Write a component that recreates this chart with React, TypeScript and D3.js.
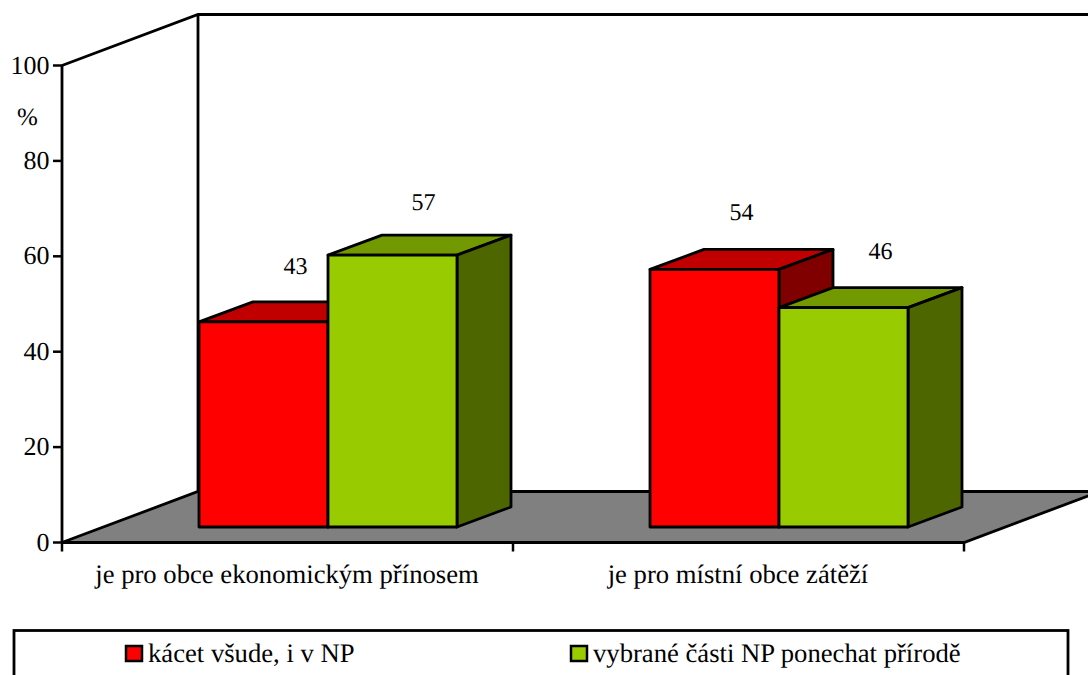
import React from 'react';
import * as d3 from 'd3';

const categories = ['je pro obce ekonomickým přínosem', 'je pro místní obce zátěží'];
const seriesNames = ['kácet všude, i v NP', 'vybrané části NP ponechat přírodě'];
const cutValues = [43, 54];
const keepValues = [57, 46];
const yTicks = [0, 20, 40, 60, 80, 100];
const xEdges = [0, 1, 2];

const frontColors = ['#ff0000', '#99cc00'];
const topColors = ['#c00000', '#739900'];
const sideColors = ['#800000', '#4d6600'];

const serif = '"Liberation Serif", "Times New Roman", serif';

// 3d offsets: whole floor depth, bar front inset, bar depth
const wall = { dx: 136, dy: -51 };
const inset = { dx: 40.5, dy: -15.5 };
const depth = { dx: 54, dy: -20 };

const y = d3.scaleLinear().domain([0, 100]).range([542.5, 65.5]);
const xEdge = d3.scaleLinear().domain([0, 2]).range([62, 964]);
const x0 = d3.scaleBand<string>().domain(categories).range([62, 964]).paddingInner(0).paddingOuter(0);
const x1 = d3.scaleBand<string>().domain(seriesNames).range([96.5, 354.5]);

const poly = (pts: [number, number][]) => (d3.line()(pts) as string) + 'Z';

function Bar({ cat, name, value, i }: { cat: string; name: string; value: number; i: number }) {
  const left = (x0(cat) as number) + (x1(name) as number) + inset.dx;
  const right = left + x1.bandwidth();
  const bottom = y(0) + inset.dy;
  const top = y(value) + inset.dy;
  const stroke = { stroke: '#000', strokeWidth: 2.8, strokeLinejoin: 'round' as const };
  return (
    <g>
      <path d={poly([[left, top], [left + depth.dx, top + depth.dy], [right + depth.dx, top + depth.dy], [right, top]])} fill={topColors[i]} {...stroke} />
      <path d={poly([[right, top], [right + depth.dx, top + depth.dy], [right + depth.dx, bottom + depth.dy], [right, bottom]])} fill={sideColors[i]} {...stroke} />
      <path d={poly([[left, top], [right, top], [right, bottom], [left, bottom]])} fill={frontColors[i]} {...stroke} />
    </g>
  );
}

export default function App() {
  const series = [cutValues, keepValues];
  const labelPos = [
    [[295, 274], [741, 220]],
    [[423, 210], [880, 259]],
  ];
  return (
    <svg width={1088} height={675} style={{ position: 'absolute', left: 0, top: 0, display: 'block' }} fontFamily={serif} fill="#000" textRendering="geometricPrecision">
      <rect width={1088} height={675} fill="#fff" />

      {/* floor */}
      <path
        d={poly([[xEdge(0), y(0)], [xEdge(0) + wall.dx, y(0) + wall.dy], [xEdge(2) + wall.dx, y(0) + wall.dy], [xEdge(2), y(0)]])}
        fill="#808080" stroke="#000" strokeWidth={2.8}
      />
      {/* back wall */}
      <path
        d={`M${xEdge(0)},${y(100)}L${xEdge(0) + wall.dx},${y(100) + wall.dy}L1090,${y(100) + wall.dy}M${xEdge(0) + wall.dx},${y(100) + wall.dy}L${xEdge(0) + wall.dx},${y(0) + wall.dy}`}
        fill="none" stroke="#000" strokeWidth={2.8}
      />
      {/* axes */}
      <line x1={xEdge(0)} x2={xEdge(0)} y1={y(100)} y2={y(0)} stroke="#000" strokeWidth={2.8} />
      {yTicks.map(t => (
        <g key={t}>
          <line x1={xEdge(0) - 9} x2={xEdge(0)} y1={y(t)} y2={y(t)} stroke="#000" strokeWidth={2.5} />
          <text x={49.5} y={y(t) + 8} textAnchor="end" fontSize={26}>{t}</text>
        </g>
      ))}
      {xEdges.map(e => (
        <line key={e} x1={xEdge(e)} x2={xEdge(e)} y1={y(0)} y2={y(0) + 9} stroke="#000" strokeWidth={2.5} />
      ))}
      <text x={27.5} y={125} textAnchor="middle" fontSize={25}>%</text>

      {/* bars */}
      {categories.map((c, ci) => (
        <g key={c}>
          {seriesNames.map((n, si) => (
            <Bar key={n} cat={c} name={n} value={series[si][ci]} i={si} />
          ))}
        </g>
      ))}

      {/* data labels */}
      {series.map((vals, si) => vals.map((v, ci) => (
        <text key={`${si}-${ci}`} x={labelPos[si][ci][0] + 0.5} y={labelPos[si][ci][1]} textAnchor="middle" fontSize={24}>{v}</text>
      )))}

      {/* category labels */}
      {categories.map(c => (
        <text key={c} x={(x0(c) as number) + x0.bandwidth() / 2 - 0.5} y={583} textAnchor="middle" fontSize={26.67}>{c}</text>
      ))}

      {/* legend */}
      <rect x={14} y={630.5} width={1054} height={60} fill="#fff" stroke="#000" strokeWidth={2.8} />
      {seriesNames.map((n, i) => {
        const lx = [125, 570][i];
        return (
          <g key={n}>
            <rect x={lx + 1} y={646} width={16} height={15} fill={frontColors[i]} stroke="#000" strokeWidth={2.5} />
            <text x={lx + 23} y={662} fontSize={26.67}>{n}</text>
          </g>
        );
      })}
    </svg>
  );
}
